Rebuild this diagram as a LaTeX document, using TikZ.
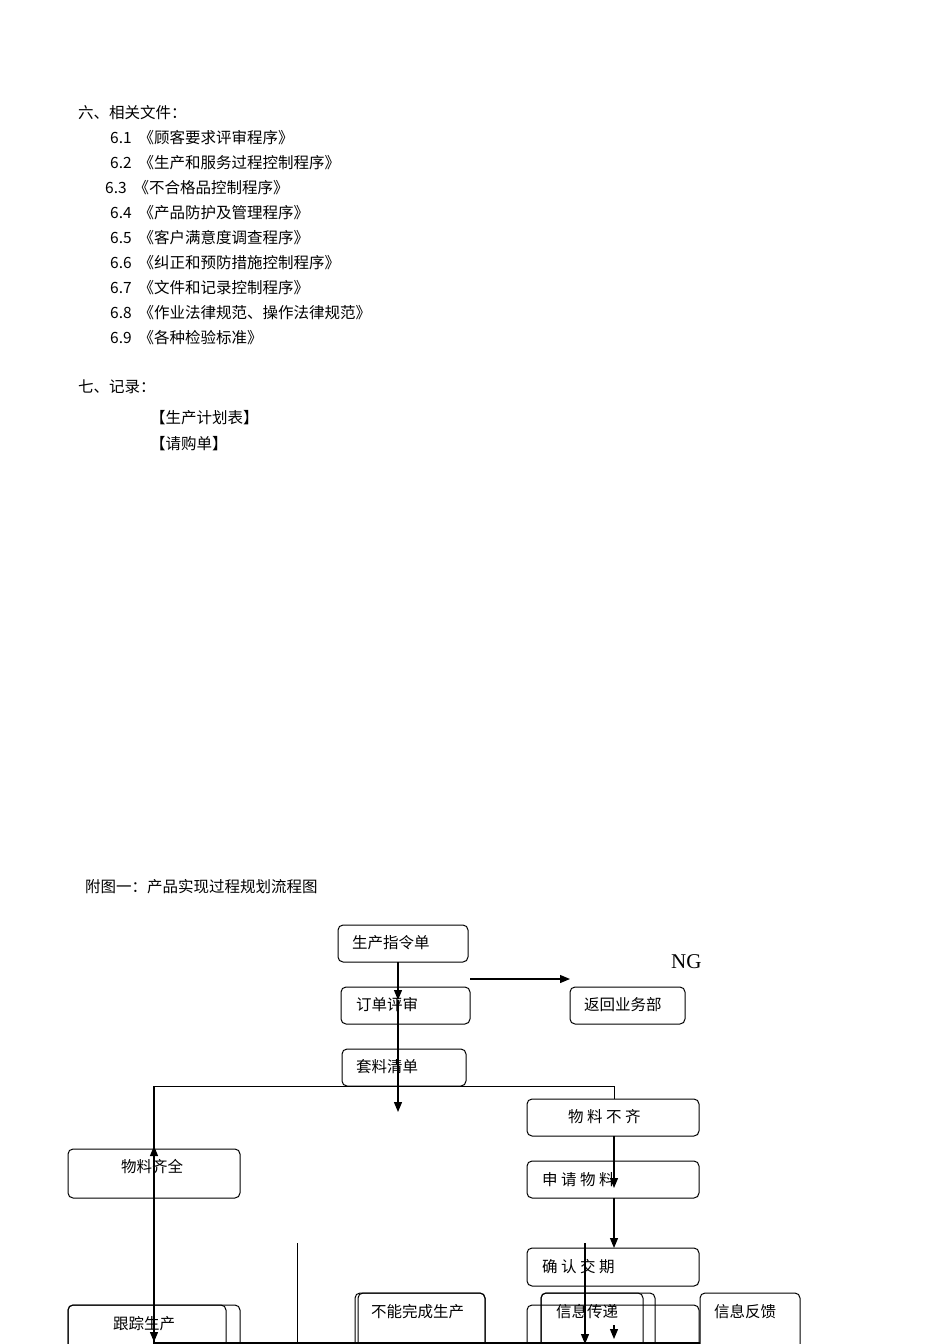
\documentclass[tikz,border=0pt]{standalone}
\usepackage{fontspec}
\setmainfont{Noto Sans CJK SC}
\newfontfamily\lat{Liberation Serif}
\usetikzlibrary{arrows.meta}
\begin{document}
\begin{tikzpicture}[x=1pt,y=-1pt,
 bx/.style={draw,rounded corners=5pt,line width=1pt},
 ar/.style={-{Triangle[length=10pt,width=8pt]},line width=1.2pt},
 ln/.style={line width=1pt},
 tx/.style={anchor=west,inner sep=0pt,font=\fontsize{15.5}{17}\selectfont},
 nm/.style={anchor=west,inner sep=0pt,font=\fontsize{15.5}{17}\selectfont\addfontfeatures{LetterSpace=12}}]
\useasboundingbox (0,0) rectangle (950,1344);
\node[tx] (h6) at (78,113) {六、相关文件：};
\node[tx] (a1) at (110,138) {6.1\ \ 《顾客要求评审程序》};
\node[tx] (a2) at (110,163) {6.2\ \ 《生产和服务过程控制程序》};
\node[tx] (a3) at (105,188) {6.3\ \ 《不合格品控制程序》};
\node[tx] (a4) at (110,213) {6.4\ \ 《产品防护及管理程序》};
\node[tx] (a5) at (110,238) {6.5\ \ 《客户满意度调查程序》};
\node[tx] (a6) at (110,263) {6.6\ \ 《纠正和预防措施控制程序》};
\node[tx] (a7) at (110,288) {6.7\ \ 《文件和记录控制程序》};
\node[tx] (a8) at (110,313) {6.8\ \ 《作业法律规范、操作法律规范》};
\node[tx] (a9) at (110,338) {6.9\ \ 《各种检验标准》};
\node[tx] (h7) at (78,387) {七、记录：};
\node[tx] (r1) at (150,418) {【生产计划表】};
\node[tx] (r2) at (150,444) {【请购单】};
\node[tx] (fig) at (85,887) {附图一：产品实现过程规划流程图};
% boxes
\draw[bx] (338,925) rectangle (468,962); \node[tx] (b1) at (352,943) {生产指令单};
\draw[bx] (341,987) rectangle (470,1024); \node[tx] (b2) at (356,1005) {订单评审};
\draw[bx] (570,987) rectangle (685,1024); \node[tx] (b3) at (584,1005) {返回业务部};
\node[anchor=west,inner sep=0pt,font=\lat\fontsize{21}{23}\selectfont] (ng) at (671,962) {NG};
\draw[bx] (342,1049) rectangle (466,1086); \node[tx] (b4) at (356,1067) {套料清单};
\draw[bx] (527,1099) rectangle (699,1136); \node[tx] (b5) at (568,1117) {物\ 料\ 不\ 齐};
\draw[bx] (68,1149) rectangle (240,1198); \node[tx] (b6) at (121,1167) {物料齐全};
\draw[bx] (527,1161) rectangle (699,1198); \node[tx] (b7) at (542,1180) {申\ 请\ 物\ 料};
\draw[bx] (527,1248) rectangle (699,1286); \node[tx] (b8) at (542,1267) {确\ 认\ 交\ 期};
\draw[bx] (68,1305) rectangle (240,1350); \draw[bx] (68,1305) rectangle (226,1350);
\node[tx] (b9) at (113,1324) {跟踪生产};
\draw[bx] (355,1293) rectangle (485,1350); \draw[bx] (358,1293) rectangle (485,1350);
\node[tx] (b10) at (371,1312) {不能完成生产};
\draw[bx] (527,1305) rectangle (699,1350); \draw[bx] (541,1293) rectangle (655,1350);
\draw[bx] (541,1293) rectangle (643,1350);
\node[tx] (b11) at (556,1312) {信息传递};
\draw[bx] (700,1293) rectangle (800,1350); \node[tx] (b12) at (714,1312) {信息反馈};
% connectors
\coordinate (c1) at (398,962); \coordinate (c2) at (398,1000); \coordinate (c3) at (398,1112);
\draw[ar] (c1) -- (c2); \draw[ar] (c2) -- (c3);
\coordinate (n1) at (470,979); \coordinate (n2) at (570,979);
\draw[ar] (n1) -- (n2);
\coordinate (j1) at (154,1086); \coordinate (j2) at (614,1086); \coordinate (j3) at (614,1099);
\draw[ln] (j3) -- (j2) -- (j1);
\coordinate (k1) at (154,1344); \coordinate (k2) at (154,1146);
\draw[ar] (j1) -- (154,1342); \draw[ar] (k1) -- (k2);
\coordinate (m1) at (614,1136); \coordinate (m2) at (614,1188);
\draw[ar] (m1) -- (m2);
\coordinate (m3) at (614,1198); \coordinate (m4) at (614,1248);
\draw[ar] (m3) -- (m4);
\coordinate (m5) at (614,1325); \coordinate (m6) at (614,1339);
\draw[ar] (m5) -- (m6);
\coordinate (p1) at (585,1243); \coordinate (p2) at (585,1344);
\draw[ar] (p1) -- (p2);
\coordinate (q1) at (297,1243); \coordinate (q2) at (297,1344);
\draw[ln] (q1) -- (q2);
\coordinate (s1) at (154,1343); \coordinate (s2) at (700,1343);
\draw[ln,line width=1.5pt] (s1) -- (s2);
\end{tikzpicture}
\end{document}
